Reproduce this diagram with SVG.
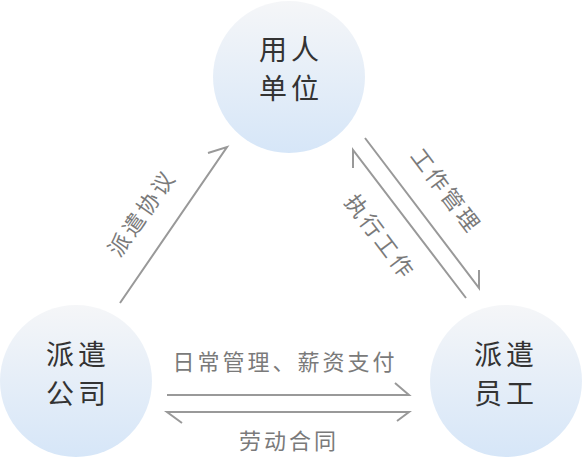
<svg xmlns="http://www.w3.org/2000/svg" width="582" height="460" viewBox="0 0 582 460">
<defs>
<linearGradient id="g" x1="0" y1="0" x2="0" y2="1">
<stop offset="0" stop-color="#f5f6f8"/>
<stop offset="1" stop-color="#d6e6f8"/>
</linearGradient>
<style>
.node{fill:url(#g);}
.nt{font-family:"Noto Sans CJK SC","Noto Sans",sans-serif;font-size:28px;fill:#333;text-anchor:middle;letter-spacing:4px;}
.lb{font-family:"Noto Sans CJK SC","Noto Sans",sans-serif;font-size:22px;fill:#7a7a7a;text-anchor:middle;letter-spacing:3px;}
.ln{stroke:#999;stroke-width:2;fill:none;stroke-linecap:butt;stroke-linejoin:miter;}
</style>
</defs>
<rect width="582" height="460" fill="#fff"/>
<g id="node-employer">
<circle class="node" cx="289" cy="77" r="76"/>
<text class="nt" x="291" y="60">用人</text>
<text class="nt" x="291" y="99">单位</text>
</g>
<g id="node-agency">
<circle class="node" cx="76" cy="381" r="76"/>
<text class="nt" x="78" y="365">派遣</text>
<text class="nt" x="78" y="404">公司</text>
</g>
<g id="node-employee">
<circle class="node" cx="506" cy="381" r="76"/>
<text class="nt" x="506" y="365">派遣</text>
<text class="nt" x="506" y="404">员工</text>
</g>
<g id="connectors">
<path class="ln" d="M120,303 L227,147 L208,153"/>
<path class="ln" d="M365,138 L479,288 L479,270"/>
<path class="ln" d="M466,298 L353,150 L353,168"/>
<path class="ln" d="M167,395 L409,395 L395,383"/>
<path class="ln" d="M182,423 L167,412 L409,412 L397,421"/>
</g>
<g id="labels">
<text class="lb" transform="translate(142,213) rotate(-55)" x="0" y="8">派遣协议</text>
<text class="lb" transform="translate(446,191) rotate(53)" x="0" y="8">工作管理</text>
<text class="lb" transform="translate(380,237) rotate(53)" x="0" y="8">执行工作</text>
<text class="lb" x="285" y="370">日常管理、薪资支付</text>
<text class="lb" x="289" y="449">劳动合同</text>
</g>
</svg>
